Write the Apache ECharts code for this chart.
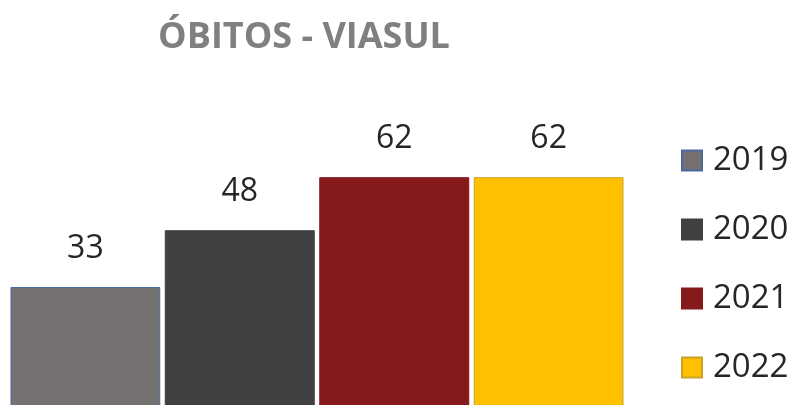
<!DOCTYPE html>
<html>
<head>
<meta charset="utf-8">
<script src="https://cdn.jsdelivr.net/npm/echarts@6/dist/echarts.min.js"></script>
<style>
html, body { margin: 0; padding: 0; background: #fff; }
#chart { width: 794px; height: 405px; }
</style>
</head>
<body>
<div id="chart"></div>
<script>
// dados
const categories = ['Óbitos']
const years = ['2019', '2020', '2021', '2022']
const values = [33, 48, 62, 62]
const colors = ['#767171', '#404040', '#861a1a', '#ffc000']
const borders = ['#4a6aa0', '#404040', '#861a1a', '#c9a227']

const font = 'Open Sans'

let option = {
	animation: false,
	title: {
		text: 'ÓBITOS - VIASUL',
		left: 299,
		top: 15,
		textAlign: 'center',
		textStyle: {
			fontFamily: font,
			fontSize: 36,
			fontWeight: 'bold',
			color: '#808080'
		}
	},
	legend: {
		orient: 'vertical',
		left: 676,
		top: 139,
		itemWidth: 20,
		itemHeight: 20,
		itemGap: 36,
		icon: 'rect',
		selectedMode: false,
		textStyle: {
			fontFamily: font,
			fontSize: 33,
			color: '#262626',
			padding: [0, 0, 0, 6]
		}
	},
	grid: {
		left: 11,
		width: 612,
		top: 109,
		height: 303,
		outerBoundsMode: 'none',
		containLabel: false
	},
	xAxis: {
		type: 'category',
		data: categories,
		show: false
	},
	yAxis: {
		type: 'value',
		min: 0,
		max: 80,
		show: false
	},
	series: years.map((name, i) => {
		return {
			name: name,
			type: 'bar',
			barWidth: 150,
			barGap: '3%',
			data: [values[i]],
			itemStyle: {
				color: colors[i],
				borderColor: borders[i],
				borderWidth: 1
			},
			label: {
				show: true,
				position: 'top',
				distance: 22,
				fontFamily: font,
				fontSize: 32,
				color: '#262626'
			}
		}
	})
}

let myChart = echarts.init(document.getElementById('chart'))
myChart.setOption(option)
</script>
</body>
</html>
